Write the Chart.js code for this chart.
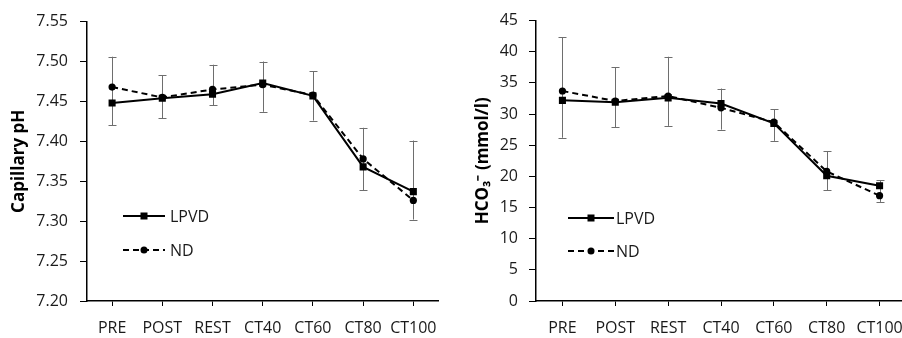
<!DOCTYPE html>
<html>
<head>
<meta charset="utf-8">
<script src="https://cdn.jsdelivr.net/npm/chart.js@4.4.1/dist/chart.umd.min.js"></script>
<style>
  html, body { margin: 0; padding: 0; background: #fff; overflow: hidden; }
  #wrap { position: relative; width: 902px; height: 338px; overflow: hidden; }
  #c1 { position: absolute; left: 0; top: 0; }
  #c2 { position: absolute; left: 450px; top: 0; }
</style>
</head>
<body>
<div id="wrap">
  <canvas id="c1" width="450" height="338"></canvas>
  <canvas id="c2" width="470" height="338"></canvas>
</div>
<script>
// ---- Data ----
const categories = ['PRE', 'POST', 'REST', 'CT40', 'CT60', 'CT80', 'CT100'];
const seriesNames = ['LPVD', 'ND'];

// Capillary pH
const phLPVD = [7.448, 7.454, 7.459, 7.473, 7.457, 7.368, 7.337];
const phND   = [7.468, 7.455, 7.465, 7.471, 7.458, 7.378, 7.326];
const phErrHigh = [7.506, 7.483, 7.496, 7.500, 7.488, 7.417, 7.401];
const phErrLow  = [7.420, 7.429, 7.445, 7.437, 7.426, 7.339, 7.302];
const phTicks = { min: 7.20, max: 7.55, step: 0.05 };

// HCO3-
const hcoLPVD = [32.2, 31.9, 32.6, 31.7, 28.5, 20.1, 18.5];
const hcoND   = [33.7, 32.1, 32.9, 31.0, 28.7, 20.8, 16.9];
const hcoErrHigh = [42.3, 37.5, 39.2, 34.1, 30.8, 24.0, 19.4];
const hcoErrLow  = [26.2, 27.9, 28.1, 27.5, 25.7, 17.8, 15.9];
const hcoTicks = { min: 0, max: 45, step: 5 };

const FONT = "'Open Sans', sans-serif";
const TXT = '#1a1a1a';

const errorBarPlugin = {
  id: 'errorBars',
  beforeDatasetsDraw(chart, args, opts) {
    const { ctx } = chart;
    const xs = chart.scales.x, ys = chart.scales.y;
    ctx.save();
    ctx.strokeStyle = '#6e6e6e';
    ctx.lineWidth = 1;
    opts.high.forEach((hi, i) => {
      const lo = opts.low[i];
      const x = Math.round(xs.getPixelForValue(i)) + 0.5;
      const yh = ys.getPixelForValue(hi), yl = ys.getPixelForValue(lo);
      ctx.beginPath();
      ctx.moveTo(x, yh); ctx.lineTo(x, yl);
      ctx.moveTo(x - 4, Math.round(yh) + 0.5); ctx.lineTo(x + 4, Math.round(yh) + 0.5);
      ctx.moveTo(x - 4, Math.round(yl) + 0.5); ctx.lineTo(x + 4, Math.round(yl) + 0.5);
      ctx.stroke();
    });
    ctx.restore();
  }
};

const legendPlugin = {
  id: 'inLegend',
  afterDraw(chart, args, opts) {
    const { ctx } = chart;
    ctx.save();
    chart.data.datasets.forEach((ds, i) => {
      const y = opts.ys[i];
      ctx.strokeStyle = '#000';
      ctx.lineWidth = 2;
      ctx.setLineDash(ds.borderDash || []);
      ctx.beginPath();
      ctx.moveTo(opts.x1, y); ctx.lineTo(opts.x2, y);
      ctx.stroke();
      ctx.setLineDash([]);
      const mx = (opts.x1 + opts.x2) / 2;
      ctx.fillStyle = '#000';
      if (ds.pointStyle === 'rect') {
        ctx.fillRect(mx - 3.5, y - 3.5, 7, 7);
      } else {
        ctx.beginPath(); ctx.arc(mx, y, 3.5, 0, Math.PI * 2); ctx.fill();
      }
      ctx.fillStyle = TXT;
      ctx.font = '16px ' + FONT;
      ctx.textBaseline = 'middle';
      ctx.textAlign = 'left';
      ctx.fillText(ds.label, opts.tx, y + 1);
    });
    ctx.restore();
  }
};

function makeChart(id, d1, d2, hi, lo, tk, title, cfg) {
  return new Chart(document.getElementById(id), {
    type: 'line',
    data: {
      labels: categories,
      datasets: [
        { label: seriesNames[0], data: d1, borderColor: '#000', backgroundColor: '#000',
          borderWidth: 2, pointStyle: 'rect', pointRadius: 5, pointBorderWidth: 0, tension: 0 },
        { label: seriesNames[1], data: d2, borderColor: '#000', backgroundColor: '#000',
          borderWidth: 2, borderDash: [6, 4], pointStyle: 'circle', pointRadius: 3.6, pointBorderWidth: 0, tension: 0 }
      ]
    },
    options: {
      responsive: false,
      animation: false,
      layout: { padding: { left: 0, top: cfg.top, right: cfg.right, bottom: 0 } },
      plugins: {
        legend: { display: false },
        tooltip: { enabled: false },
        errorBars: { high: hi, low: lo },
        inLegend: cfg.legend
      },
      scales: {
        x: {
          type: 'category',
          offset: true,
          grid: { display: true, drawOnChartArea: false, drawTicks: true, tickLength: 5, color: '#000', offset: false },
          border: { display: true, color: '#000', width: 1.5 },
          ticks: { color: TXT, font: { family: FONT, size: 16 }, padding: 13, maxRotation: 0, autoSkip: false },
          afterFit: s => { s.height = 37; }
        },
        y: {
          min: tk.min, max: tk.max,
          grid: { display: true, drawOnChartArea: false, drawTicks: true, tickLength: 7, color: '#000' },
          border: { display: true, color: '#000', width: 1.5 },
          ticks: { stepSize: tk.step, color: TXT, font: { family: FONT, size: 16 }, padding: cfg.tickPad,
                   callback: v => tk.step < 1 ? Number(v).toFixed(2) : String(v) },
          title: { display: true, text: title, color: '#000', font: { family: FONT, size: 17, weight: 'bold' },
                   padding: { top: cfg.titlePad, bottom: 0 } },
          afterFit: s => { s.width = cfg.yWidth; }
        }
      }
    },
    plugins: [errorBarPlugin, legendPlugin]
  });
}

makeChart('c1', phLPVD, phND, phErrHigh, phErrLow, phTicks, 'Capillary pH',
  { top: 16, right: 7, yWidth: 87, tickPad: 12, titlePad: 9,
    legend: { x1: 123, x2: 165, tx: 170, ys: [216, 250] } });

makeChart('c2', hcoLPVD, hcoND, hcoErrHigh, hcoErrLow, hcoTicks, 'HCO\u2083\u207B (mmol/l)',
  { top: 15, right: 14, yWidth: 86, tickPad: 11, titlePad: 23,
    legend: { x1: 118, x2: 164, tx: 166, ys: [218, 251] } });
</script>
</body>
</html>
